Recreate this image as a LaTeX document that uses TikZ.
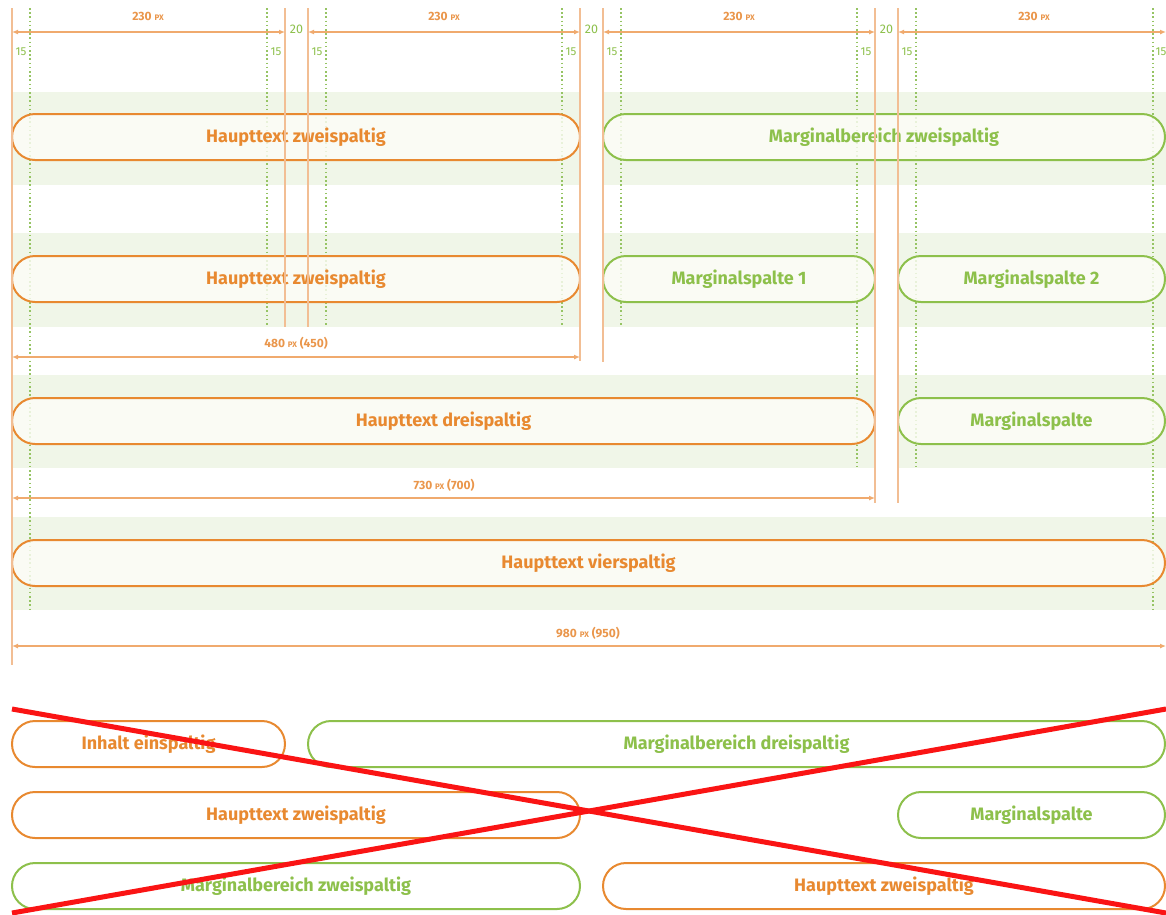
\documentclass[tikz,border=0pt]{standalone}
\usepackage{fontspec}
\setmainfont{Fira Sans}
\usetikzlibrary{arrows.meta}
\definecolor{orC}{RGB}{232,137,48}
\definecolor{grC}{RGB}{141,192,75}
\definecolor{lineO}{RGB}{242,190,148}
\definecolor{dimO}{RGB}{240,170,110}
\definecolor{dimT}{RGB}{234,150,75}
\definecolor{dotG}{RGB}{150,196,100}
\definecolor{bandG}{RGB}{240,246,232}
\definecolor{boxF}{RGB}{253,253,247}
\definecolor{redX}{RGB}{250,20,20}
\begin{document}
\begin{tikzpicture}[x=1pt,y=-1pt,
  band/.style={fill=bandG,draw=none},
  mbox/.style={rectangle,rounded corners=23pt,minimum height=46pt,inner sep=0pt,line width=2pt,
    font=\fontsize{18}{20}\selectfont\bfseries,text opacity=1},
  obox/.style={mbox,draw=orC,text=orC,fill=boxF,fill opacity=0.8},
  gbox/.style={mbox,draw=grC,text=grC,fill=boxF,fill opacity=0.8},
  wobox/.style={mbox,draw=orC,text=orC,fill=white},
  wgbox/.style={mbox,draw=grC,text=grC,fill=white},
  colline/.style={draw=lineO,line width=2pt},
  marg/.style={draw=dotG,line width=1.7pt,dash pattern=on 1.6pt off 2.6pt},
  dimline/.style={draw=dimO,line width=1.8pt,{Latex[length=6pt,width=5pt]}-{Latex[length=6pt,width=5pt]}},
  dimtext/.style={text=dimT,font=\fontsize{12}{12}\selectfont\bfseries,inner sep=0pt},
  gaptext/.style={text=grC,font=\fontsize{12.5}{12}\selectfont,inner sep=0pt},
  fifteen/.style={text=grC,font=\fontsize{11.5}{11}\selectfont,inner sep=0pt},
  redline/.style={draw=redX,line width=5pt}
]
\useasboundingbox (0,0) rectangle (1166,914);
\fill[white] (0,0) rectangle (1166,914);
\newcommand{\px}{{\fontsize{8}{8}\selectfont PX}}

% bands
\fill[band] (12,92) rectangle (580,185);
\fill[band] (603,92) rectangle (1166,185);
\fill[band] (12,233) rectangle (580,327);
\fill[band] (603,233) rectangle (875,327);
\fill[band] (898,233) rectangle (1166,327);
\fill[band] (12,375) rectangle (875,468);
\fill[band] (898,375) rectangle (1166,468);
\fill[band] (12,517) rectangle (1166,610);

% margin (dotted) lines
\coordinate (m1t) at (30,8);   \coordinate (m1b) at (30,610);
\coordinate (m2t) at (267,8);  \coordinate (m2b) at (267,327);
\coordinate (m3t) at (326,8);  \coordinate (m3b) at (326,327);
\coordinate (m4t) at (562,8);  \coordinate (m4b) at (562,327);
\coordinate (m5t) at (621,8);  \coordinate (m5b) at (621,327);
\coordinate (m6t) at (857,8);  \coordinate (m6b) at (857,468);
\coordinate (m7t) at (916,8);  \coordinate (m7b) at (916,468);
\coordinate (m8t) at (1153,8); \coordinate (m8b) at (1153,610);
\foreach \i in {1,...,8} \draw[marg] (m\i t) -- (m\i b);

% grid boxes
\node[obox,minimum width=568pt] (r1a) at (296,137) {Haupttext zweispaltig};
\node[gbox,minimum width=562pt] (r1b) at (884,137) {Marginalbereich zweispaltig};
\node[obox,minimum width=568pt] (r2a) at (296,279) {Haupttext zweispaltig};
\node[gbox,minimum width=272pt] (r2b) at (739,279) {Marginalspalte 1};
\node[gbox,minimum width=267pt] (r2c) at (1031.5,279) {Marginalspalte 2};
\node[obox,minimum width=863pt] (r3a) at (443.5,421) {Haupttext dreispaltig};
\node[gbox,minimum width=267pt] (r3b) at (1031.5,421) {Marginalspalte};
\node[obox,minimum width=1153pt] (r4a) at (588.5,563) {Haupttext vierspaltig};

% column lines
\coordinate (c1t) at (12,8);  \coordinate (c1b) at (12,665);
\coordinate (c2t) at (285,8); \coordinate (c2b) at (285,327);
\coordinate (c3t) at (308,8); \coordinate (c3b) at (308,327);
\coordinate (c4t) at (580,8); \coordinate (c4b) at (580,361);
\coordinate (c5t) at (603,8); \coordinate (c5b) at (603,362);
\coordinate (c6t) at (875,8); \coordinate (c6b) at (875,503);
\coordinate (c7t) at (898,8); \coordinate (c7b) at (898,503);
\foreach \i in {1,...,7} \draw[colline] (c\i t) -- (c\i b);

% dimension lines
\coordinate (d1a) at (12,32);  \coordinate (d1b) at (285,32);
\coordinate (d2a) at (308,32); \coordinate (d2b) at (580,32);
\coordinate (d3a) at (603,32); \coordinate (d3b) at (875,32);
\coordinate (d4a) at (898,32); \coordinate (d4b) at (1166,32);
\coordinate (d5a) at (12,357); \coordinate (d5b) at (580,357);
\coordinate (d6a) at (12,498); \coordinate (d6b) at (875,498);
\coordinate (d7a) at (12,646); \coordinate (d7b) at (1166,646);
\foreach \i in {1,...,7} \draw[dimline] (d\i a) -- (d\i b);

\node[dimtext] (t1) at (148,16) {230 \px};
\node[dimtext] (t2) at (444,16) {230 \px};
\node[dimtext] (t3) at (739,16) {230 \px};
\node[dimtext] (t4) at (1034,16) {230 \px};
\node[dimtext] (t5) at (296,343) {480 \px\ (450)};
\node[dimtext] (t6) at (444,485) {730 \px\ (700)};
\node[dimtext] (t7) at (588,633) {980 \px\ (950)};

\node[gaptext] (g1) at (296.5,29) {20};
\node[gaptext] (g2) at (591.5,29) {20};
\node[gaptext] (g3) at (886.5,29) {20};

\node[fifteen] (f1) at (21,52) {15};
\node[fifteen] (f2) at (276,52) {15};
\node[fifteen] (f3) at (317,52) {15};
\node[fifteen] (f4) at (571,52) {15};
\node[fifteen] (f5) at (612,52) {15};
\node[fifteen] (f6) at (866,52) {15};
\node[fifteen] (f7) at (907,52) {15};
\node[fifteen] (f8) at (1161,52) {15};

% wrong layouts
\node[wobox,minimum width=273pt] (w1) at (148.5,744) {Inhalt einspaltig};
\node[wgbox,minimum width=857pt] (w2) at (736.5,744) {Marginalbereich dreispaltig};
\node[wobox,minimum width=568pt] (w3) at (296,815) {Haupttext zweispaltig};
\node[wgbox,minimum width=267pt] (w4) at (1031.5,815) {Marginalspalte};
\node[wgbox,minimum width=568pt] (w5) at (296,886) {Marginalbereich zweispaltig};
\node[wobox,minimum width=562pt] (w6) at (884,886) {Haupttext zweispaltig};

% red cross
\coordinate (xa) at (12,709);  \coordinate (xb) at (1166,913);
\coordinate (xc) at (12,913);  \coordinate (xd) at (1166,709);
\draw[redline] (xa) -- (xb);
\draw[redline] (xc) -- (xd);
\end{tikzpicture}
\end{document}
